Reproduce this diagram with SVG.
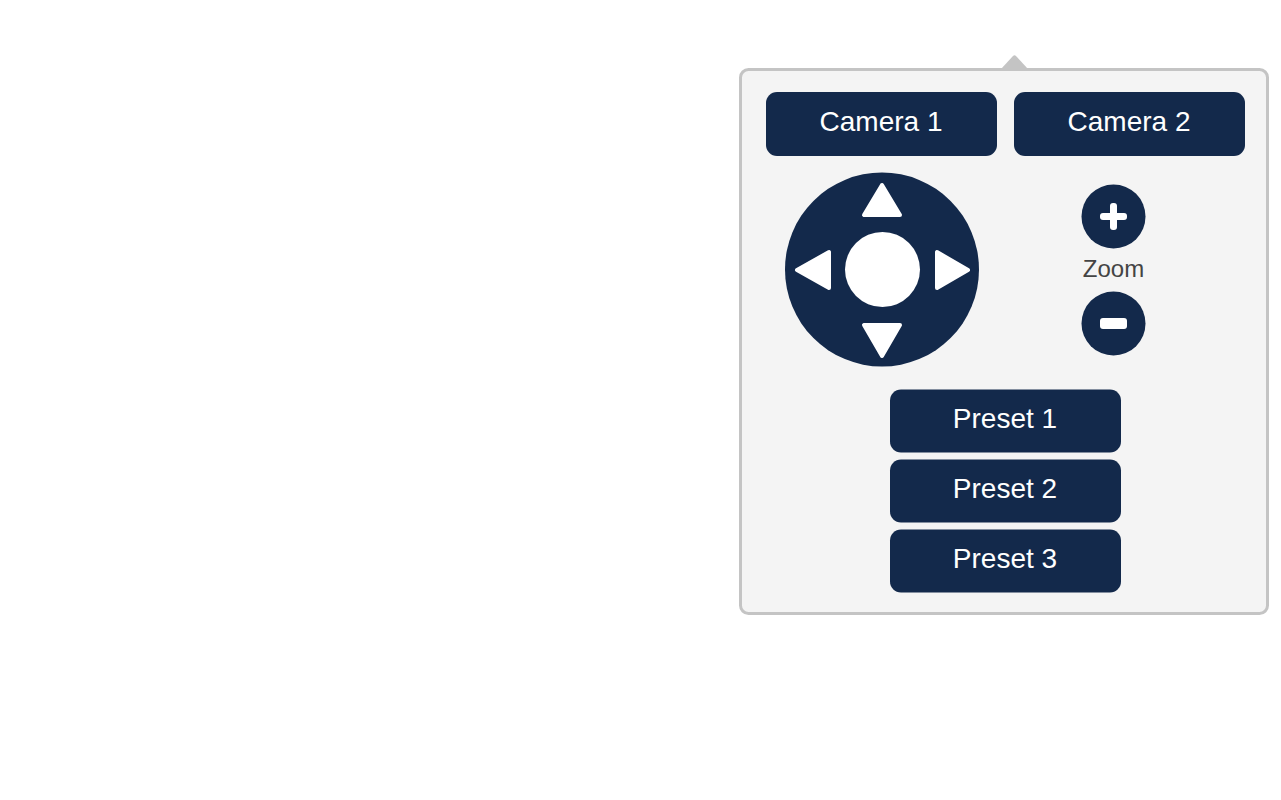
<svg xmlns="http://www.w3.org/2000/svg" width="1281" height="800" viewBox="0 0 1281 800">
<style>
.btn{fill:#13294b}
.lbl{font-family:"Liberation Sans",Arial,sans-serif;font-size:28px;fill:#ffffff;text-anchor:middle}
.zl{font-family:"Liberation Sans",Arial,sans-serif;font-size:24px;fill:#444444;text-anchor:middle}
.ico{fill:#ffffff;stroke:#ffffff;stroke-linejoin:round;stroke-width:4}
</style>
<rect x="0" y="0" width="1281" height="800" fill="#ffffff"/>
<g id="panel">
<path d="M1001,69 L1013,56 Q1014.5,54.5 1016,56 L1028,69 Z" fill="#c4c4c4"/>
<rect x="740.5" y="69.5" width="527" height="544" rx="8" fill="#f4f4f4" stroke="#c4c4c4" stroke-width="3"/>
</g>
<g id="camera1">
<rect class="btn" x="766" y="92" width="231" height="64" rx="11"/>
<text class="lbl" x="881" y="131">Camera 1</text>
</g>
<g id="camera2">
<rect class="btn" x="1014" y="92" width="231" height="64" rx="11"/>
<text class="lbl" x="1129" y="131">Camera 2</text>
</g>
<g id="joystick">
<circle class="btn" cx="882" cy="269.5" r="97"/>
<circle cx="882.5" cy="269.5" r="37.5" fill="#ffffff"/>
<polygon class="ico" points="882,185 864,215 900,215"/>
<polygon class="ico" points="882,356 864,325 900,325"/>
<polygon class="ico" points="797,270 829,252 829,288"/>
<polygon class="ico" points="968,270 937,252 937,288"/>
</g>
<g id="zoom-in">
<circle class="btn" cx="1113.5" cy="216.5" r="32"/>
<rect x="1100" y="213" width="27" height="7" rx="3" fill="#ffffff"/>
<rect x="1110" y="203" width="7" height="27" rx="3" fill="#ffffff"/>
</g>
<g id="zoom-label">
<text class="zl" x="1113.5" y="277">Zoom</text>
</g>
<g id="zoom-out">
<circle class="btn" cx="1113.5" cy="323.5" r="32"/>
<rect x="1100" y="318" width="27" height="11" rx="3" fill="#ffffff"/>
</g>
<g id="preset1">
<rect class="btn" x="890" y="389.5" width="231" height="63" rx="11"/>
<text class="lbl" x="1005" y="428">Preset 1</text>
</g>
<g id="preset2">
<rect class="btn" x="890" y="459.5" width="231" height="63" rx="11"/>
<text class="lbl" x="1005" y="498">Preset 2</text>
</g>
<g id="preset3">
<rect class="btn" x="890" y="529.5" width="231" height="63" rx="11"/>
<text class="lbl" x="1005" y="568">Preset 3</text>
</g>
<g id="connectors"/>
</svg>
